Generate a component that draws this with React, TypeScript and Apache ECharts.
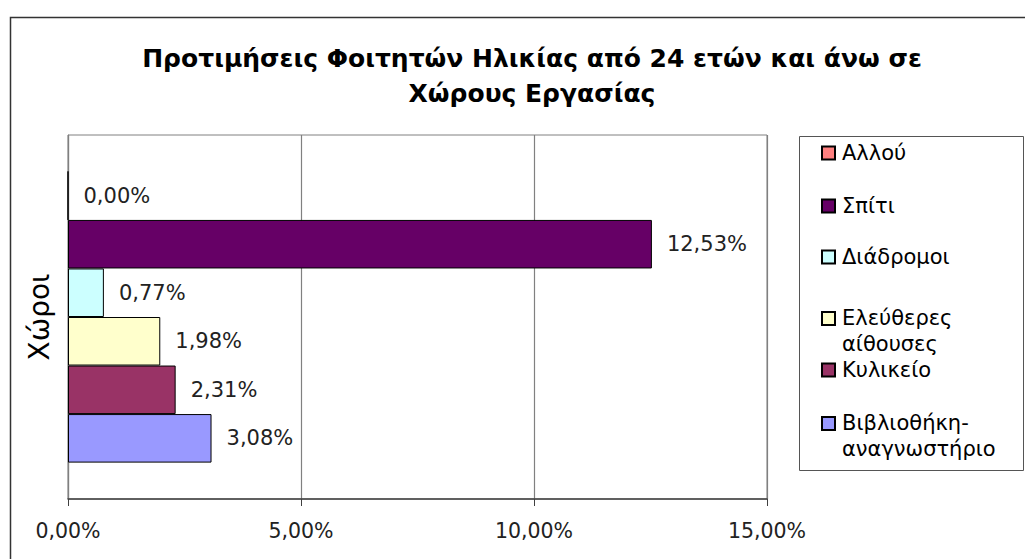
import React, { useEffect, useRef } from "react";
import * as echarts from "echarts";

const titleLines = ["Προτιμήσεις Φοιτητών Ηλικίας από 24 ετών και άνω σε", "Χώρους Εργασίας"];
const axisName = "Χώροι";
// series listed top to bottom (same order as the legend)
const seriesNames = ["Αλλού", "Σπίτι", "Διάδρομοι", "Ελεύθερες\nαίθουσες", "Κυλικείο", "Βιβλιοθήκη-\nαναγνωστήριο"];
const seriesValues = [0.0, 12.53, 0.77, 1.98, 2.31, 3.08];
const seriesColors = ["#FF8080", "#660066", "#CCFFFF", "#FFFFCC", "#993366", "#9999FF"];
const axisMin = 0;
const axisMax = 15;
const axisInterval = 5;
// legend item tops (layout)
const legendTops = [140, 193, 244, 305, 357, 410];

const FONT = "DejaVu Sans";
const fmt = (v: number) => v.toFixed(2).replace(".", ",") + "%";

export default function App() {
  const ref = useRef<HTMLDivElement>(null);
  useEffect(() => {
    if (!ref.current) return;
    const chart = echarts.init(ref.current, undefined, { renderer: "svg" });
    const twoLineIcon = "path://M0,0M0,6L13,6L13,19L0,19ZM0,50";
    chart.setOption({
      animation: false,
      backgroundColor: "#ffffff",
      title: {
        text: titleLines.join("\n"),
        left: 527,
        top: 36,
        textAlign: "center",
        textStyle: { fontFamily: FONT, fontWeight: "bold", fontSize: 25, lineHeight: 35, color: "#000" },
      },
      graphic: [
        { type: "rect", shape: { x: 10.5, y: 17.5, width: 1100, height: 700 }, style: { fill: "none", stroke: "#333", lineWidth: 1.5 }, silent: true },
        { type: "rect", shape: { x: 799.5, y: 136.5, width: 224, height: 334 }, style: { fill: "none", stroke: "#555", lineWidth: 1 }, silent: true },
      ],
      legend: seriesNames.map((name, i) => {
        const twoLine = name.includes("\n");
        return {
          show: true,
          data: [{ name, icon: twoLine ? twoLineIcon : "rect" }],
          orient: "vertical",
          left: 821,
          top: legendTops[i],
          padding: 0,
          itemWidth: 13,
          itemHeight: twoLine ? 50 : 13,
          itemGap: 0,
          selectedMode: false,
          textStyle: { fontFamily: FONT, fontSize: 21, lineHeight: 26, color: "#000", padding: [0, 0, 0, 2] },
        };
      }),
      grid: { left: 68, top: 135, right: 258, bottom: 60, show: true, borderColor: "#808080", borderWidth: 1, backgroundColor: "#fff" },
      xAxis: {
        type: "value",
        min: axisMin,
        max: axisMax,
        interval: axisInterval,
        axisLine: { show: true, lineStyle: { color: "#404040", width: 1.5 } },
        axisTick: { show: true, length: 7, lineStyle: { color: "#404040", width: 1 } },
        axisLabel: { formatter: (v: number) => fmt(v), fontFamily: FONT, fontSize: 20.5, color: "#222", margin: 21 },
        splitLine: { show: true, lineStyle: { color: "#808080", width: 1.2 } },
      },
      yAxis: {
        type: "category",
        data: [""],
        name: axisName,
        nameLocation: "middle",
        nameGap: 15,
        nameTextStyle: { fontFamily: FONT, fontSize: 28, color: "#000" },
        axisLine: { show: true, lineStyle: { color: "#808080", width: 1.2 } },
        axisTick: { show: false },
        axisLabel: { show: false },
      },
      series: seriesNames.map((name, i) => ({
        type: "bar",
        name,
        data: [seriesValues[i]],
        barGap: "0%",
        barCategoryGap: "20%",
        itemStyle: { color: seriesColors[i], borderColor: "#000", borderWidth: 1 },
        label: {
          show: true,
          position: "right",
          distance: 15,
          formatter: (p: any) => fmt(p.value),
          fontFamily: FONT,
          fontSize: 21,
          color: "#222",
        },
      })),
    });
    return () => chart.dispose();
  }, []);
  return <div ref={ref} style={{ position: "fixed", left: 0, top: 0, width: 1025, height: 559 }} />;
}
